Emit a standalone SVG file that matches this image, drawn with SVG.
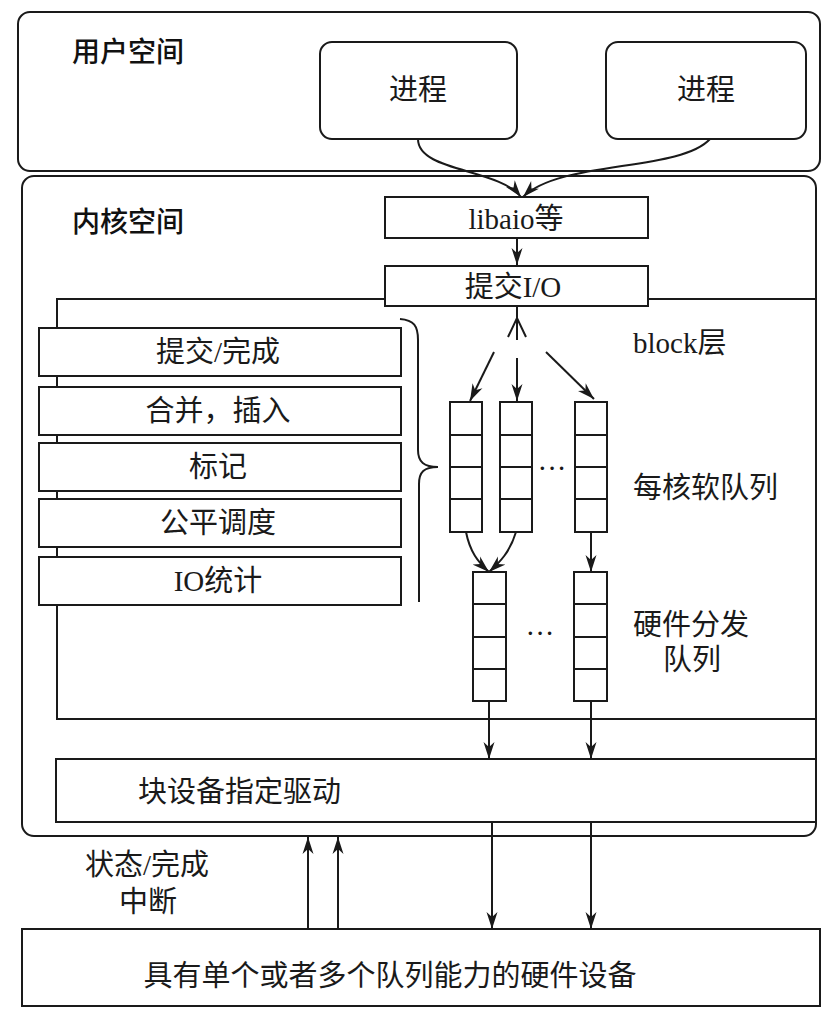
<svg xmlns="http://www.w3.org/2000/svg" width="838" height="1012" viewBox="0 0 838 1012">
  <style>
    .box { fill: #fff; stroke: #1a1a1a; stroke-width: 2; }
    .line { fill: none; stroke: #1a1a1a; stroke-width: 2; }
    .serif { font-family: "Liberation Serif", "Noto Sans CJK SC", serif; font-size: 29px; fill: #1a1a1a; }
    .head { font-family: "Noto Sans CJK SC", sans-serif; font-size: 28px; font-weight: 500; fill: #111; }
    .mid { text-anchor: middle; }
  </style>
  <defs>
    <marker id="arrow" markerWidth="18" markerHeight="12" refX="17" refY="6" orient="auto" markerUnits="userSpaceOnUse">
      <path d="M0,0.5 L17,6 L0,11.5 L5,6 z" fill="#1a1a1a"/>
    </marker>
  </defs>

  <!-- user space -->
  <g id="user-space">
    <rect class="box" x="18" y="12" width="802" height="159" rx="12"/>
    <text class="head" x="72" y="62">用户空间</text>
  </g>
  <g id="process-1">
    <rect class="box" x="320" y="42" width="197" height="97" rx="12"/>
    <text class="serif mid" x="418" y="100">进程</text>
  </g>
  <g id="process-2">
    <rect class="box" x="606" y="42" width="200" height="97" rx="12"/>
    <text class="serif mid" x="706" y="100">进程</text>
  </g>

  <!-- kernel space -->
  <g id="kernel-space">
    <rect class="box" x="22" y="176" width="794" height="660" rx="12"/>
    <text class="head" x="72" y="232">内核空间</text>
  </g>

  <g id="block-layer">
    <rect class="box" x="57" y="299" width="759" height="420"/>
    <text class="serif" x="633" y="353">block层</text>
  </g>

  <g id="libaio">
    <rect class="box" x="385" y="197" width="263" height="41"/>
    <text class="serif mid" x="516" y="229">libaio等</text>
  </g>
  <g id="submit-io">
    <rect class="box" x="385" y="266" width="263" height="40"/>
    <text class="serif mid" x="513" y="297">提交I/O</text>
  </g>

  <!-- block layer functions -->
  <g id="fn-submit">
    <rect class="box" x="39" y="328" width="362" height="48"/>
    <text class="serif mid" x="218" y="362">提交/完成</text>
  </g>
  <g id="fn-merge">
    <rect class="box" x="39" y="387" width="362" height="48"/>
    <text class="serif mid" x="218" y="421">合并，插入</text>
  </g>
  <g id="fn-tag">
    <rect class="box" x="39" y="443" width="362" height="48"/>
    <text class="serif mid" x="218" y="477">标记</text>
  </g>
  <g id="fn-sched">
    <rect class="box" x="39" y="499" width="362" height="48"/>
    <text class="serif mid" x="218" y="533">公平调度</text>
  </g>
  <g id="fn-stats">
    <rect class="box" x="39" y="557" width="362" height="48"/>
    <text class="serif mid" x="218" y="591">IO统计</text>
  </g>
  <g id="brace">
    <path class="line" d="M400,319 C414,320 418,326 418,340 L418,450 C418,462 424,467 438,467 C424,467 419,472 419,484 L419,602"/>
  </g>

  <!-- per-core software queues -->
  <g id="soft-queue-1">
    <rect class="box" x="450" y="402" width="32" height="130"/>
    <path class="line" d="M450,435 H482 M450,467 H482 M450,499 H482"/>
  </g>
  <g id="soft-queue-2">
    <rect class="box" x="500" y="402" width="32" height="130"/>
    <path class="line" d="M500,435 H532 M500,467 H532 M500,499 H532"/>
  </g>
  <g id="soft-queue-3">
    <rect class="box" x="575" y="402" width="32" height="130"/>
    <path class="line" d="M575,435 H607 M575,467 H607 M575,499 H607"/>
  </g>
  <g id="soft-dots">
    <text class="serif mid" x="552" y="478">···</text>
  </g>
  <g id="soft-label">
    <text class="serif" x="633" y="498">每核软队列</text>
  </g>

  <!-- hardware dispatch queues -->
  <g id="hw-queue-1">
    <rect class="box" x="473" y="572" width="33" height="129"/>
    <path class="line" d="M473,604 H506 M473,637 H506 M473,669 H506"/>
  </g>
  <g id="hw-queue-2">
    <rect class="box" x="574" y="572" width="33" height="129"/>
    <path class="line" d="M574,604 H607 M574,637 H607 M574,669 H607"/>
  </g>
  <g id="hw-dots">
    <text class="serif mid" x="540" y="643">···</text>
  </g>
  <g id="hw-label">
    <text class="serif" x="633" y="635">硬件分发</text>
    <text class="serif mid" x="692" y="670">队列</text>
  </g>

  <g id="driver">
    <rect class="box" x="56" y="759" width="760" height="63"/>
    <text class="serif" x="138" y="802">块设备指定驱动</text>
  </g>

  <g id="hardware">
    <rect class="box" x="22" y="929" width="798" height="77"/>
    <text class="serif mid" x="390" y="986">具有单个或者多个队列能力的硬件设备</text>
  </g>

  <g id="irq-label">
    <text class="serif mid" x="147" y="875">状态/完成</text>
    <text class="serif mid" x="148" y="912">中断</text>
  </g>

  <!-- connectors -->
  <g id="connectors">
    <path class="line" d="M418,139 C418,172 498,168 521,197" marker-end="url(#arrow)"/>
    <path class="line" d="M710,139 C680,172 560,160 523,197" marker-end="url(#arrow)"/>
    <path class="line" d="M517,238 V265" marker-end="url(#arrow)"/>
    <!-- open head pointing back to submit box -->
    <path class="line" d="M517,306 V340 M508,337 L517,318 L526,337"/>
    <path class="line" d="M494,352 L470,401" marker-end="url(#arrow)"/>
    <path class="line" d="M517,358 V401" marker-end="url(#arrow)"/>
    <path class="line" d="M546,352 L594,399" marker-end="url(#arrow)"/>
    <path class="line" d="M466,532 C470,552 478,562 489,572" marker-end="url(#arrow)"/>
    <path class="line" d="M516,532 C510,552 500,562 489,572" marker-end="url(#arrow)"/>
    <path class="line" d="M591,532 V572" marker-end="url(#arrow)"/>
    <path class="line" d="M489,701 V759" marker-end="url(#arrow)"/>
    <path class="line" d="M591,701 V759" marker-end="url(#arrow)"/>
    <path class="line" d="M492,822 V929" marker-end="url(#arrow)"/>
    <path class="line" d="M591,822 V929" marker-end="url(#arrow)"/>
    <path class="line" d="M308,929 V837" marker-end="url(#arrow)"/>
    <path class="line" d="M338,929 V837" marker-end="url(#arrow)"/>
  </g>
</svg>
